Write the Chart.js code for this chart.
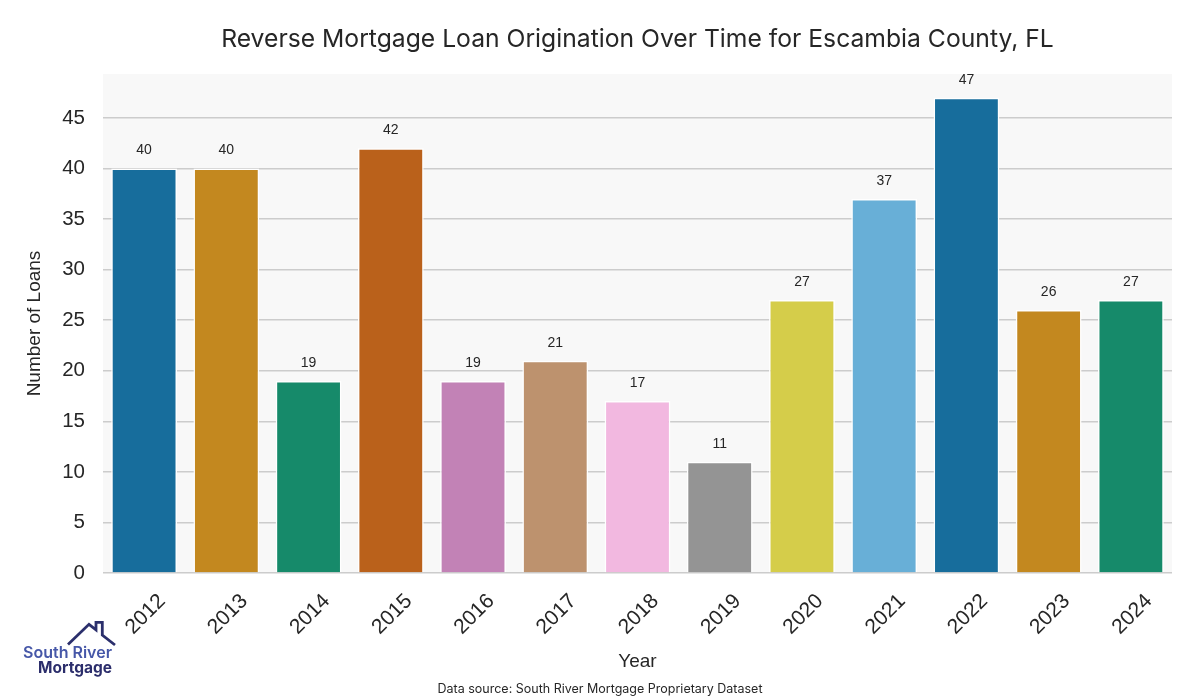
<!DOCTYPE html>
<html>
<head>
<meta charset="utf-8">
<script src="https://cdn.jsdelivr.net/npm/chart.js@4.4.1/dist/chart.umd.min.js"></script>
<style>
  html, body { margin: 0; padding: 0; background: #ffffff; }
  #wrap { position: relative; width: 1200px; height: 700px; }
  #logo { position: absolute; left: 0; top: 0; width: 1200px; height: 700px; pointer-events: none; }
</style>
</head>
<body>
<div id="wrap">
  <canvas id="c" width="1200" height="700"></canvas>
  <svg id="logo" width="1200" height="700" xmlns="http://www.w3.org/2000/svg">
    <polyline points="68,644.5 89,624.3 96,629.9 96,622.3 102.3,622.3 102.3,635 115,645" fill="none" stroke="#2b2f6c" stroke-width="2.8" stroke-linejoin="miter"/>
    <text x="112" y="658" text-anchor="end" font-family="Inter, 'DejaVu Sans', sans-serif" font-weight="600" font-size="16" fill="#4657a8">South River</text>
    <text x="112" y="672.5" text-anchor="end" font-family="Inter, 'DejaVu Sans', sans-serif" font-weight="700" font-size="15.5" fill="#2b2d6b">Mortgage</text>
  </svg>
</div>
<script>
const titleText = "Reverse Mortgage Loan Origination Over Time for Escambia County, FL";
const sourceText = "Data source: South River Mortgage Proprietary Dataset";
const years = ["2012","2013","2014","2015","2016","2017","2018","2019","2020","2021","2022","2023","2024"];
const loans = [40, 40, 19, 42, 19, 21, 17, 11, 27, 37, 47, 26, 27];
const barColors = ["#176d9c","#c3881f","#168a6a","#ba611b","#c282b6","#bd926e","#f2b8e0","#949494","#d5cd4a","#68afd7","#176d9c","#c3881f","#168a6a"];
const yTicks = [0, 5, 10, 15, 20, 25, 30, 35, 40, 45];
const yMax = 49.35;

const decor = {
  id: 'decor',
  beforeDraw(chart) {
    const {ctx, chartArea: a} = chart;
    ctx.save();
    ctx.fillStyle = '#f8f8f8';
    ctx.fillRect(a.left, a.top, a.right - a.left, a.bottom - a.top);
    ctx.restore();
  },
  afterDatasetsDraw(chart) {
    const {ctx, chartArea: a} = chart;
    const meta = chart.getDatasetMeta(0);
    ctx.save();
    ctx.fillStyle = '#262626';
    ctx.font = '14px "Liberation Sans", Arial, sans-serif';
    ctx.textAlign = 'center';
    ctx.textBaseline = 'middle';
    meta.data.forEach((bar, i) => {
      ctx.fillText(String(loans[i]), bar.x, bar.y - 18);
    });
    // title
    ctx.fillStyle = '#262626';
    ctx.font = '24.7px Inter, "Open Sans", sans-serif';
    ctx.fillText(titleText, (a.left + a.right) / 2, 40);
    // source
    ctx.font = '12.5px Inter, "Open Sans", sans-serif';
    ctx.fillText(sourceText, 600, 689);
    ctx.restore();
  }
};

new Chart(document.getElementById('c'), {
  type: 'bar',
  data: {
    labels: years,
    datasets: [{
      data: loans,
      backgroundColor: barColors,
      borderColor: '#ffffff',
      borderWidth: 1.5,
      categoryPercentage: 0.8,
      barPercentage: 1.0
    }]
  },
  options: {
    responsive: false,
    animation: false,
    devicePixelRatio: 1,
    layout: { padding: { top: 74, right: 28, bottom: 0, left: 0 } },
    plugins: {
      legend: { display: false },
      tooltip: { enabled: false },
      title: { display: false }
    },
    scales: {
      x: {
        grid: { display: false, drawTicks: false },
        border: { display: false },
        ticks: {
          color: '#262626',
          font: { family: '"Liberation Sans", Arial, sans-serif', size: 21 },
          minRotation: 45,
          maxRotation: 45,
          padding: 16,
          labelOffset: 18
        },
        title: {
          display: true,
          text: 'Year',
          color: '#262626',
          font: { family: '"Liberation Sans", Arial, sans-serif', size: 19, lineHeight: 1.2 },
          padding: { top: 0, bottom: 27 }
        },
        afterFit(scale) { scale.height = 127; }
      },
      y: {
        min: 0,
        max: yMax,
        grid: { color: '#cccccc', lineWidth: 1.5, drawTicks: false },
        border: { display: false },
        afterBuildTicks(scale) { scale.ticks = yTicks.map(v => ({ value: v })); },
        ticks: {
          color: '#262626',
          font: { family: '"Liberation Sans", Arial, sans-serif', size: 20.5 },
          padding: 18
        },
        title: {
          display: true,
          text: 'Number of Loans',
          color: '#262626',
          font: { family: '"Liberation Sans", Arial, sans-serif', size: 19, lineHeight: 1.2 },
          padding: { top: 23, bottom: 0 }
        },
        afterFit(scale) { scale.width = 103; }
      }
    }
  },
  plugins: [decor]
});
</script>
</body>
</html>
